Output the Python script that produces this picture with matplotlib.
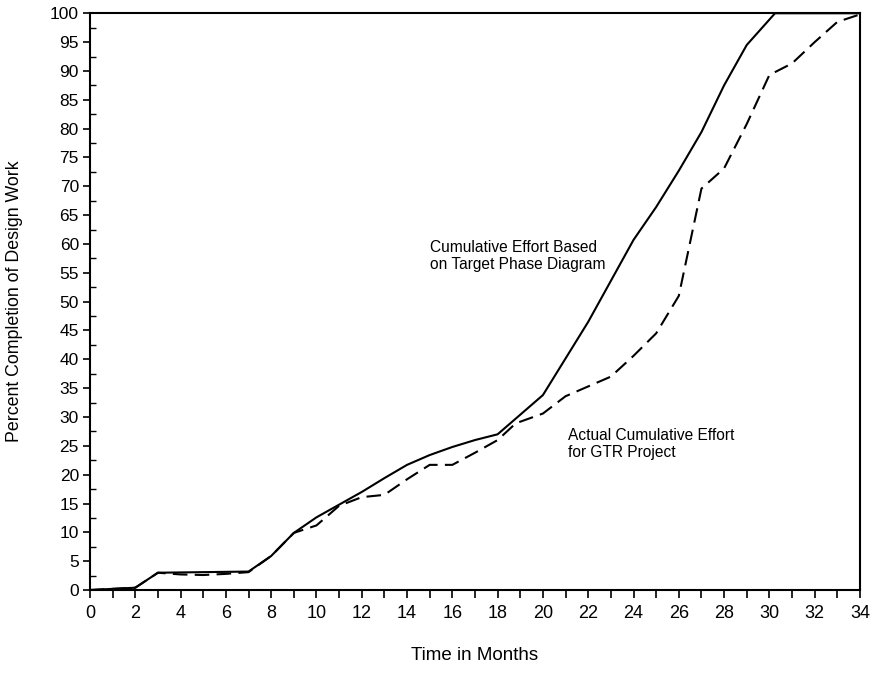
import matplotlib.pyplot as plt
from matplotlib.ticker import MultipleLocator

plt.rcParams['font.family'] = ['Liberation Sans', 'DejaVu Sans']

# Cumulative effort based on target phase diagram (solid)
target_months = [0, 2, 3, 7, 8, 9, 10, 11, 12, 13, 14, 15, 16, 17, 18, 20,
                 22, 24, 25, 26, 27, 28, 29, 30.25, 34]
target_pct = [0, 0.4, 3.0, 3.2, 5.9, 9.9, 12.6, 14.8, 17.0, 19.4, 21.7, 23.4,
              24.8, 26.0, 27.0, 33.8, 46.5, 60.7, 66.4, 72.7, 79.4, 87.5,
              94.5, 100, 100]

# Actual cumulative effort for GTR project (dashed)
actual_months = [0, 2, 3, 4, 5, 6, 7, 8, 9, 10, 11, 12, 13, 14, 15, 16, 17,
                 18, 18.8, 20, 21, 23, 24, 25, 26, 27, 28, 29, 30, 31, 32,
                 33, 34]
actual_pct = [0, 0.4, 3.0, 2.7, 2.6, 2.8, 3.1, 5.9, 9.9, 11.2, 14.6, 16.1,
              16.5, 19.2, 21.7, 21.7, 23.8, 26.0, 28.9, 30.6, 33.6, 37.0,
              40.6, 44.5, 51.0, 69.6, 73.1, 80.8, 89.3, 91.3, 95.0, 98.5,
              99.8]

fig = plt.figure(figsize=(8.72, 6.73), dpi=100)
ax = fig.add_axes([0.1032, 0.1233, 0.883, 0.857])

ax.plot(target_months, target_pct, color='black', linewidth=1.5)
ax.plot(actual_months, actual_pct, color='black', linewidth=1.5,
        linestyle=(0, (7, 3.5)))

ax.set_xlim(0, 34)
ax.set_ylim(0, 100)
ax.xaxis.set_major_locator(MultipleLocator(2))
ax.xaxis.set_minor_locator(MultipleLocator(1))
ax.yaxis.set_major_locator(MultipleLocator(5))
ax.yaxis.set_minor_locator(MultipleLocator(2.5))
ax.tick_params(axis='x', which='both', direction='out', length=6, width=1.2,
               labelsize=13, pad=5)
ax.tick_params(axis='y', which='major', direction='out', length=5, width=1.2,
               labelsize=12.5, pad=3)
ax.tick_params(axis='y', which='minor', direction='in', length=4, width=1.0)
for spine in ax.spines.values():
    spine.set_linewidth(1.5)

ax.set_xlabel('Time in Months', fontsize=13.5, labelpad=18)
ax.set_ylabel('Percent Completion of Design Work', fontsize=12.8, labelpad=19)

ax.text(15.0, 57.9, 'Cumulative Effort Based\non Target Phase Diagram',
        fontsize=11.2, va='center', ha='left', linespacing=1.1)
ax.text(21.1, 25.3, 'Actual Cumulative Effort\nfor GTR Project',
        fontsize=11.2, va='center', ha='left', linespacing=1.1)

fig.savefig('out.png', dpi=100)
